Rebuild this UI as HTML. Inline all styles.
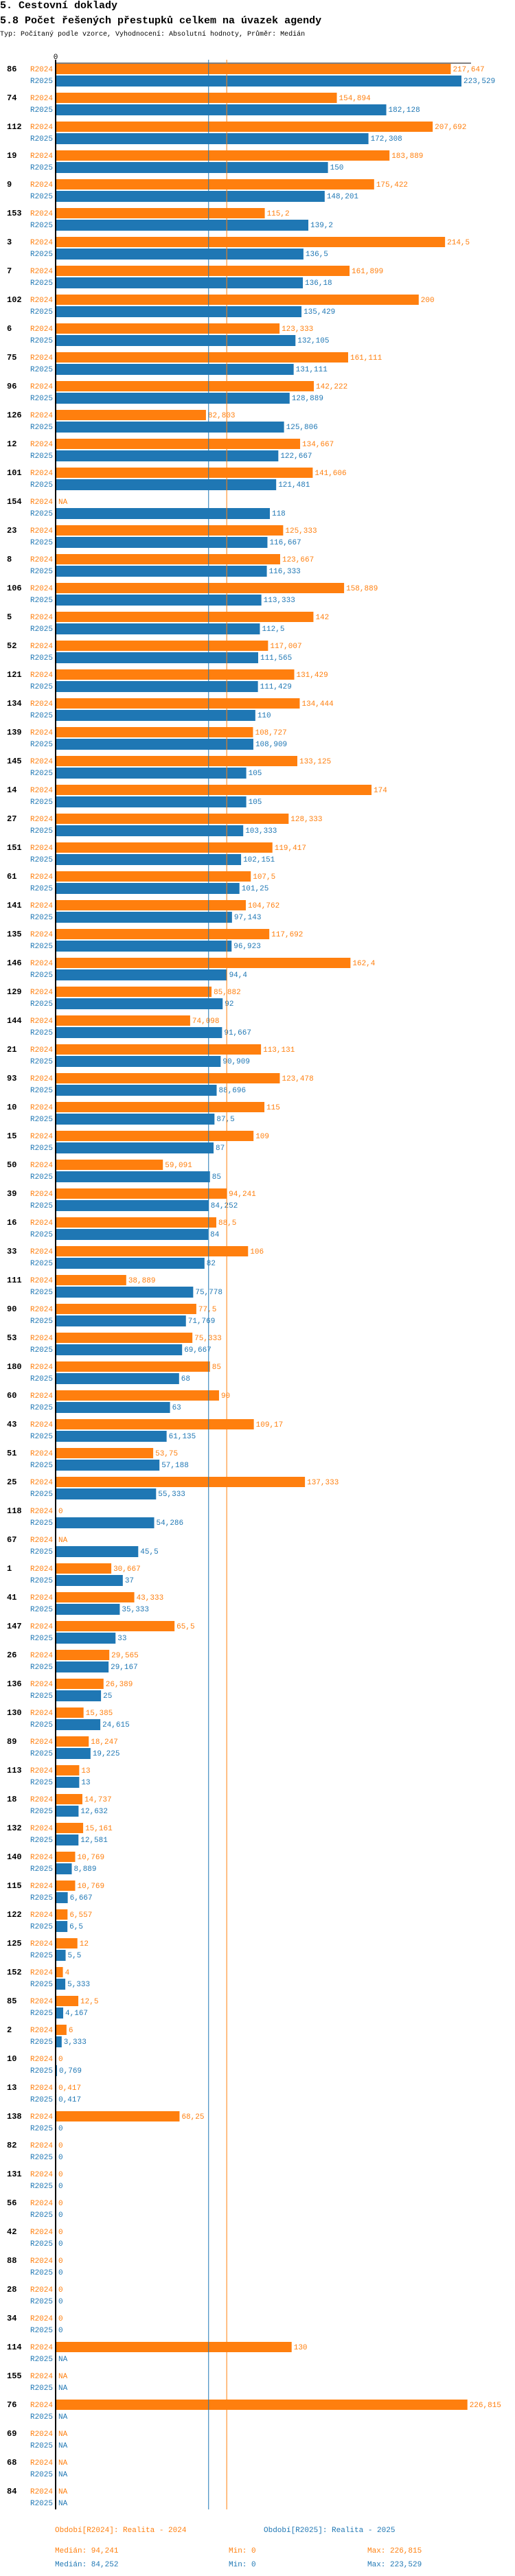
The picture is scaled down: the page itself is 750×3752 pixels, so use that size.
<!DOCTYPE html>
<html><head><meta charset="utf-8">
<style>
body{margin:0;background:#fff;width:750px;height:3752px;overflow:hidden;font-family:"Liberation Mono",monospace;}
.t1{position:absolute;left:0;top:0;font-size:15px;font-weight:bold;}
.t2{position:absolute;left:0;top:22px;font-size:15px;font-weight:bold;}
.t3{position:absolute;left:0;top:45px;font-size:10px;}
svg{position:absolute;left:0;top:0;}
</style></head><body>
<div class="t1">5. Cestovní doklady</div>
<div class="t2">5.8 Počet řešených přestupků celkem na úvazek agendy</div>
<div class="t3">Typ: Počítaný podle vzorce, Vyhodnocení: Absolutní hodnoty, Průměr: Medián</div>
<svg id="chart" width="750" height="3752"></svg>
<script>
const categories=["86","74","112","19","9","153","3","7","102","6","75","96","126","12","101","154","23","8","106","5","52","121","134","139","145","14","27","151","61","141","135","146","129","144","21","93","10","15","50","39","16","33","111","90","53","180","60","43","51","25","118","67","1","41","147","26","136","130","89","113","18","132","140","115","122","125","152","85","2","10","13","138","82","131","56","42","88","28","34","114","155","76","69","68","84"];
const values2024=[217.647,154.894,207.692,183.889,175.422,115.2,214.5,161.899,200,123.333,161.111,142.222,82.803,134.667,141.606,null,125.333,123.667,158.889,142,117.007,131.429,134.444,108.727,133.125,174,128.333,119.417,107.5,104.762,117.692,162.4,85.882,74.098,113.131,123.478,115,109,59.091,94.241,88.5,106,38.889,77.5,75.333,85,90,109.17,53.75,137.333,0,null,30.667,43.333,65.5,29.565,26.389,15.385,18.247,13,14.737,15.161,10.769,10.769,6.557,12,4,12.5,6,0,0.417,68.25,0,0,0,0,0,0,0,130,null,226.815,null,null,null];
const values2025=[223.529,182.128,172.308,150,148.201,139.2,136.5,136.18,135.429,132.105,131.111,128.889,125.806,122.667,121.481,118,116.667,116.333,113.333,112.5,111.565,111.429,110,108.909,105,105,103.333,102.151,101.25,97.143,96.923,94.4,92,91.667,90.909,88.696,87.5,87,85,84.252,84,82,75.778,71.769,69.667,68,63,61.135,57.188,55.333,54.286,45.5,37,35.333,33,29.167,25,24.615,19.225,13,12.632,12.581,8.889,6.667,6.5,5.5,5.333,4.167,3.333,0.769,0.417,0,0,0,0,0,0,0,0,null,null,null,null,null,null];
const median2024=94.241, median2025=84.252;
const min2024=0, min2025=0, max2024=226.815, max2025=223.529;

const NS="http://www.w3.org/2000/svg";
const svg=document.getElementById('chart');
const X0=81, K=2.644, TOP=93, PITCH=42;
const C24="#ff7f0e", C25="#1f77b4";
function x(v){return X0+v*K;}
function gy(i){return TOP+i*PITCH;}
function fmt(v){return v===null?"NA":String(v).replace('.',',');}
function el(tag,attrs,text){const e=document.createElementNS(NS,tag);for(const k in attrs)e.setAttribute(k,attrs[k]);if(text!==undefined)e.textContent=text;svg.appendChild(e);return e;}
const bottom=gy(categories.length-1)+34;

let t=el('text',{x:X0,y:86,'font-size':11,'text-anchor':'middle','font-family':'Liberation Mono, monospace'},'0');


let l=el('line',{x1:X0,y1:92,x2:686,y2:92,stroke:'#000','stroke-width':1});



categories.forEach((c,i)=>{
  const y=gy(i);
  const cl=el('text',{x:10,y:y+11,'font-size':12,'font-weight':'bold','font-family':'Liberation Mono, monospace'},c);
  
  
  [[values2024[i],C24,'R2024',0,15],[values2025[i],C25,'R2025',17,16]].forEach(([v,col,lab,off,h])=>{
    const sl=el('text',{x:77,y:y+off+11,'font-size':11,'text-anchor':'end',fill:col,'font-family':'Liberation Mono, monospace'},lab);
    
    
    let end=X0+1;
    if(v!==null && v>0){
      const r=el('rect',{x:X0,y:y+off,width:x(v)-X0,height:h,fill:col});
      
      
      end=x(v);
    }
    const vl=el('text',{x:end+3,y:y+off+11,'font-size':11,fill:col,'font-family':'Liberation Mono, monospace'},fmt(v));
    
    
  });
});

let m1=el('line',{x1:x(median2025),y1:87,x2:x(median2025),y2:bottom,stroke:C25,'stroke-width':1});


let m2=el('line',{x1:x(median2024),y1:87,x2:x(median2024),y2:bottom,stroke:C24,'stroke-width':1});


let ax=el('line',{x1:X0,y1:87,x2:X0,y2:bottom,stroke:'#000','stroke-width':2});



const legend=[
 [80,3688,C24,'Období[R2024]: Realita - 2024','legend-2024'],
 [384,3688,C25,'Období[R2025]: Realita - 2025','legend-2025'],
 [80,3718,C24,'Medián: '+fmt(median2024),'median-2024'],
 [333,3718,C24,'Min: '+fmt(min2024),'min-2024'],
 [535,3718,C24,'Max: '+fmt(max2024),'max-2024'],
 [80,3738,C25,'Medián: '+fmt(median2025),'median-2025'],
 [333,3738,C25,'Min: '+fmt(min2025),'min-2025'],
 [535,3738,C25,'Max: '+fmt(max2025),'max-2025']];
legend.forEach(([lx,ly,col,txt,nm])=>{
  const e=el('text',{x:lx,y:ly,'font-size':11,fill:col,'font-family':'Liberation Mono, monospace'},txt);
  
  
});
</script>
</body></html>
